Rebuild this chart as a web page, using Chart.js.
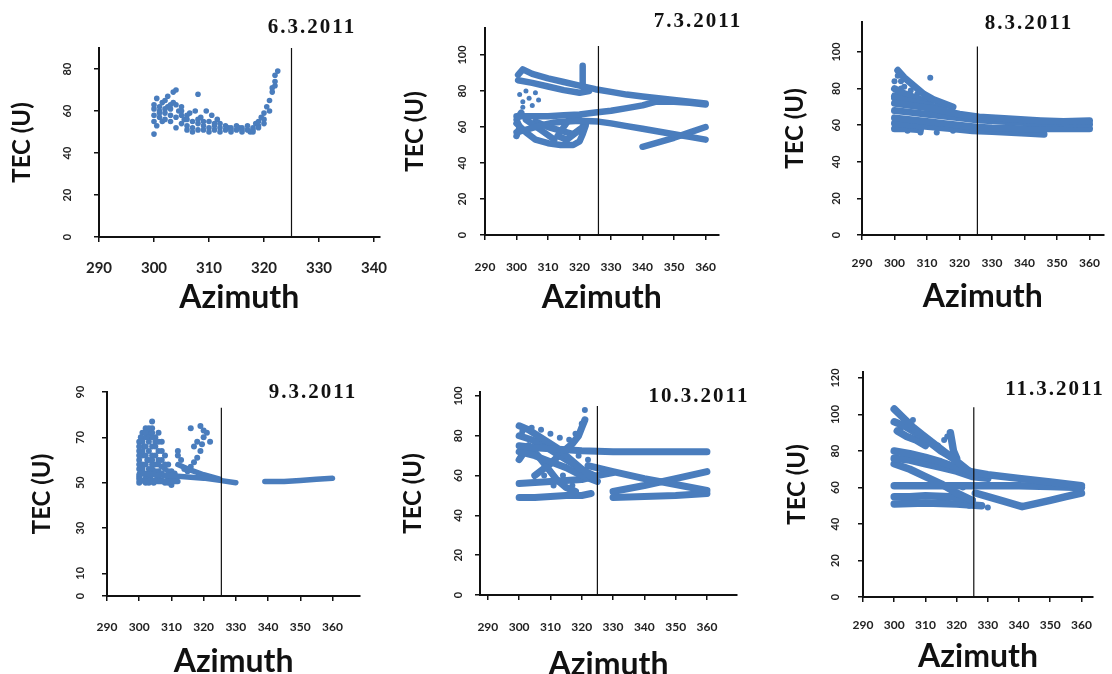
<!DOCTYPE html>
<html>
<head>
<meta charset="utf-8">
<script src="https://cdn.jsdelivr.net/npm/chart.js@4.4.1/dist/chart.umd.min.js"></script>
<style>
body{margin:0;background:#fff;width:1112px;height:674px;overflow:hidden;position:relative}
canvas{position:absolute}
.date{position:absolute;font:bold 21px "Liberation Serif";letter-spacing:2px;color:#111;transform:translate(-50%,-50%);white-space:nowrap}
</style>
</head>
<body>
<canvas id="c1"></canvas><canvas id="c2"></canvas><canvas id="c3"></canvas>
<canvas id="c4"></canvas><canvas id="c5"></canvas><canvas id="c6"></canvas>
<script>
// days and axis ticks
var dates = ["6.3.2011", "7.3.2011", "8.3.2011", "9.3.2011", "10.3.2011", "11.3.2011"];
var azTicksShort = [290, 300, 310, 320, 330, 340];
var azTicks = [290, 300, 310, 320, 330, 340, 350, 360];
var tecTicks80 = [0, 20, 40, 60, 80];
var tecTicks90 = [0, 10, 30, 50, 70, 90];
var tecTicks100 = [0, 20, 40, 60, 80, 100];
var tecTicks120 = [0, 20, 40, 60, 80, 100, 120];

// azimuth of the event marker and how high the marker goes (TEC units)
var eventAz = [325, 326, 325.5, 325.5, 325, 325.5];
var eventTop = [90, 105, 103, 83, 95, 104];

// 6.3.2011 : [azimuth, TEC]
var dots_6mar = [[300,49],[300,55],[300,58],[300,61],[300,63],[300.5,66],[300.5,53],[301,57],[301,60],[301,62],[301.5,64],[301.5,55],
	[302,59],[302,56],[302,65],[302.5,67],[302.5,62],[303,61],[303,58],[303,55],[303.5,69],[303.5,64],[304,70],[304,63],[304,57],[304,52],
	[304.5,60],[305,54],[305,58],[305,62],[305.5,56],[306,56],[306,53],[306,51],[306.5,59],[307,52],[307,55],[307,50],[307.5,60],[308,68],
	[308,54],[308,51],[308.5,57],[309,53],[309,51],[309.5,60],[310,52],[310,55],[310,50],[310.5,58],[311,51],[311,54],[311.5,56],[312,52],
	[312,50],[313,51],[313,53],[313.5,52],[314,52],[314,50],[315,51],[315,53],[315.5,52],[316,52],[316,50],[317,51],[317,53],[317.5,50],
	[318,52],[318,50],[318.5,54],[319,53],[319,55],[319.5,57],[320,56],[320,59],[320.5,62],[321,60],[321,65],[321.5,69],[321.5,71],
	[322,72],[322,74],[322,77],[322.5,79],[301,59],[302,61],[303,63],[305,60],[306,58],[308,56],[309,55],[311,53],[312,54],[314,51],
	[316,51],[318,51],[319,52],[320,54]];
var tracks_6mar = [];

// 7.3.2011
var tracks_7mar = [
	[[300.5,89],[302,92],[305,89.5],[310,87],[315,85],[320,83],[325,81],[330,79.5],[335,78],[340,77],[345,76],[350,75],[355,74],[360,73]],
	[[300.5,86],[305,84.5],[310,82.5],[315,80.5],[320,79],[323,80]],
	[[300,66],[305,66],[310,66],[315,66.5],[320,67],[325,68],[330,69],[335,70.5],[340,72],[344,74],[350,74],[355,73.5],[360,72.5]],
	[[300,57],[304,59],[308,61],[312,62.5],[316,63],[320,63.5],[326,63],[330,62],[335,60.5],[340,59],[345,57.5],[350,56],[355,54.5],[360,53]],
	[[340,49],[345,51.5],[350,54],[355,57],[360,60]],
	[[300,62],[303,57],[306,53],[310,51],[314,50],[318,50],[320,52],[321,56],[322,61],[320,64],[317,65],[315,60],[313,55],[316,53],[319,57]],
	[[300,55],[301,60],[300,64],[301.5,68]],
	[[303,64],[308,58],[312,53]],
	[[306,63],[310,60],[314,58],[318,56],[321,60]],
	[[321,84],[321,89],[321,94]]
];
var dots_7mar = [[301,78],[302,74],[303,80],[304,76],[305,72],[306,79],[307,75],[302,71]];

// 8.3.2011
var tracks_8mar = [
	[[300,72],[304,71],[308,70],[312,69],[316,67.5],[320,66],[326,64.5],[335,63.5],[345,62.5],[352,62],[360,62.5]],
	[[300,68],[305,67],[310,66],[315,65],[320,64],[325,63],[330,62.5],[340,61.5],[350,61],[360,60.5]],
	[[300,64],[305,63],[310,62],[315,61],[320,60],[325,59],[330,58.5],[340,58],[350,58],[360,58]],
	[[300,61],[306,60],[312,59],[318,58],[324,57],[330,56.5],[336,56],[342,55.5],[346,55]],
	[[300,58],[304,58],[308,57.5]],
	[[300,75],[305,73],[310,71],[315,69]],
	[[301,90],[303,86],[305,83],[307,80],[309,77],[312,74],[315,72],[318,70]],
	[[300,80],[302,78],[305,76],[308,74],[311,72]],
	[[300,76],[303,74],[306,72]]
];
var dots_8mar = [[311,86],[304,57],[308,56],[313,56],[318,57],[300,84],[302,84],[303,81],[305,79],[307,77],[310,75],[313,73],[301,87],[302,80]];

// 9.3.2011
var dots_9mar = [[300,50],[300,53],[300,56],[300,60],[300,64],[300,68],[301,72],[301,51],[301,58],[301,62],[301.5,66],[302,70],[302,74],
	[302,54],[302,50],[302.5,60],[303,64],[303,68],[303,72],[303.5,52],[304,77],[304,74],[304,56],[304,62],[304.5,50],[305,70],[305,66],
	[305,58],[305.5,53],[306,72],[306,64],[306,55],[307,68],[307,60],[307,51],[308,62],[308,56],[308,50],[309,58],[309,52],[310,55],[310,49],
	[312,64],[312,62],[313,60],[314,56],[315,55],[316,57],[317,59],[318,61],[319,64],[319.5,67],[320,70],[320,73],[319,75],[321,72],
	[318,68],[317,66],[322,68],[316,74],
	[300,52],[300,58],[300,62],[300,66],[300.5,70],[301,54],[301,56],[301,64],[301,68],[302,52],[302,58],[302,62],[302,66],[302,72],
	[303,50],[303,54],[303,56],[303,60],[303,70],[303,74],[304,54],[304,58],[304,60],[304,66],[304,70],[304,72],[305,51],[305,55],
	[305,62],[305,68],[306,52],[306,58],[306,60],[306,68],[307,54],[307,57],[307,64],[308,53],[308,58],[309,50],[309,55],[310,52],[311,51],[311,54]];
var tracks_9mar = [
	[[300,54],[305,53.5],[310,53],[315,52.5],[320,52],[325,51],[330,50]],
	[[300,51],[306,50.5],[312,50.5]],
	[[312,58],[316,55.5],[320,53.5],[325,51.5]],
	[[339,50.5],[345,50.5],[350,51],[355,51.5],[360,52]]
];

// 10.3.2011
var tracks_10mar = [
	[[300,75],[305,74],[310,73.5],[315,73],[320,72.5],[330,72],[340,72],[350,72],[360,72]],
	[[300,85],[303,83],[306,80],[309,77],[312,74],[315,70],[318,66],[321,62],[324,58]],
	[[300,80],[304,78],[308,75],[312,71],[316,67],[320,63],[324,60]],
	[[300,72],[305,70],[310,67],[315,64],[320,60],[325,57]],
	[[300,56],[305,56.5],[310,57],[315,57.5],[320,58],[325,60],[330,61.5]],
	[[322,65],[330,62],[340,58.5],[350,55.5],[360,52.5]],
	[[330,52],[340,55],[350,58.5],[360,62]],
	[[330,49],[340,49.5],[350,50],[360,51]],
	[[300,49],[305,49],[310,49.5],[315,50],[320,50],[323,51]],
	[[305,60],[310,66],[314,72],[317,76],[319,80],[320,84],[321,88]],
	[[300,68],[303,75],[306,70],[309,64],[312,58],[315,54],[318,52]]
];
var dots_10mar = [[321,93],[320,86],[318,81],[316,78],[313,79],[310,81],[307,83],[304,84],[301,82],[308,60],[311,55],[314,60],[317,55],[319,70],[322,68]];

// 11.3.2011
var tracks_11mar = [
	[[300,103],[303,98],[306,93],[309,89],[312,85],[315,81],[318,77],[321,73],[324,69],[326,67]],
	[[300,96],[303,94],[306,91],[309,88],[312,84],[315,80],[318,77]],
	[[301,91],[304,88],[307,86],[310,83]],
	[[318,90],[318.5,85],[319,80],[320,76]],
	[[300,80],[305,78.5],[310,76.5],[315,74],[320,71],[325,68.5],[330,67],[340,65],[350,63],[360,61]],
	[[300,76],[305,75],[310,73],[315,71],[320,69],[325,66],[330,65]],
	[[300,61],[310,61],[320,61],[330,61],[340,61],[350,60.5],[360,60]],
	[[300,73],[305,70],[310,66],[315,62],[320,57],[325,53]],
	[[300,55],[305,55],[310,55.5],[318,55],[325,53]],
	[[300,51],[310,51.5],[320,51],[328,50]],
	[[326,57],[330,55],[335,52.5],[341,49.5],[345,51],[350,53],[355,55],[360,57]]
];
var dots_11mar = [[302,92],[304,96],[306,97],[303,89],[305,94],[316,86],[317,88],[314,83],[322,60],[324,50],[330,49]];

var blue = '#4a7dbd';

// where each panel sits on the page (plot box in px) and its axis ranges
var panels = [
	{L:99, R:379.5, T:48, B:237, xMin:290, xMax:341, yMax:90, xTicks:azTicksShort, yTicks:tecTicks80,
		yw:93, xh:82, labX:67, xPad:17, xFont:15, dot:2.8, lw:6, dots:dots_6mar, tracks:tracks_6mar, dx:312, dy:26},
	{L:484.5, R:718, T:28, B:235, xMin:290, xMax:364.1, yMax:115, xTicks:azTicks, yTicks:tecTicks100,
		yw:86, xh:84, labX:462, xPad:20, xFont:12, dot:2.5, lw:6.5, dots:dots_7mar, tracks:tracks_7mar, dx:698, dy:20},
	{L:861.5, R:1103, T:22, B:235, xMin:290, xMax:364.3, yMax:116.4, xTicks:azTicks, yTicks:tecTicks100,
		yw:83, xh:83, labX:836, xPad:16, xFont:12, dot:3, lw:7, dots:dots_8mar, tracks:tracks_8mar, dx:1029, dy:22},
	{L:106.8, R:360, T:392, B:596, xMin:290, xMax:368.6, yMax:90, xTicks:azTicks, yTicks:tecTicks90,
		yw:81, xh:87, labX:80, xPad:19, xFont:12, dot:3, lw:5.5, dots:dots_9mar, tracks:tracks_9mar, dx:313, dy:391},
	{L:480, R:737, T:392, B:595, xMin:287.5, xMax:369.6, yMax:102, xTicks:azTicks, yTicks:tecTicks100,
		yw:83, xh:91, labX:458, xPad:20, xFont:12, dot:3, lw:7, dots:dots_10mar, tracks:tracks_10mar, dx:699, dy:395},
	{L:863, R:1093, T:372, B:597, xMin:290, xMax:363.7, yMax:123.3, xTicks:azTicks, yTicks:tecTicks120,
		yw:82, xh:81, labX:835, xPad:16, xFont:12, dot:3, lw:7.5, dots:dots_11mar, tracks:tracks_11mar, dx:1055, dy:388}
];

Chart.defaults.font.family = 'Lato';

// y tick labels turned 90 degrees, like the spreadsheet axis
var rotatedTecLabels = {
	id: 'rotatedTecLabels',
	afterDraw: function(chart, args, opts){
		var ys = chart.scales.y, ctx = chart.ctx;
		ctx.save();
		ctx.font = 'bold 11px Lato';
		ctx.fillStyle = '#222';
		ctx.textAlign = 'center';
		ctx.textBaseline = 'middle';
		ys.ticks.forEach(function(t){
			ctx.save();
			ctx.translate(opts.x, ys.getPixelForValue(t.value));
			ctx.rotate(-Math.PI / 2);
			ctx.fillText(String(t.value), 0, 0);
			ctx.restore();
		});
		ctx.restore();
	}
};

function toPts(list){
	return list.map(function(p){ return {x: p[0], y: p[1]}; });
}

function buildPanel(i, g){
	var cvs = document.getElementById('c' + (i + 1));
	var padTop = 40, padRight = 45;
	var left = g.L - g.yw, top = g.T - padTop;
	var w = Math.ceil(g.R - left + padRight), h = Math.ceil(g.B + g.xh - top);
	cvs.width = w; cvs.height = h;
	cvs.style.left = left + 'px'; cvs.style.top = top + 'px';
	cvs.style.width = w + 'px'; cvs.style.height = h + 'px';

	var datasets = [{
		//event marker
		data: toPts([[eventAz[i], 0], [eventAz[i], eventTop[i]]]),
		showLine: true, borderColor: '#111', borderWidth: 1.2, pointRadius: 0, order: -1
	}];
	g.tracks.forEach(function(t){
		datasets.push({
			data: toPts(t), showLine: true, borderColor: blue, borderWidth: g.lw,
			borderCapStyle: 'round', borderJoinStyle: 'round', pointRadius: 0
		});
	});
	datasets.push({
		data: toPts(g.dots), showLine: false, pointRadius: g.dot, pointBorderWidth: 0,
		pointBackgroundColor: blue, backgroundColor: blue
	});

	var axisGrid = {display: true, drawOnChartArea: false, drawTicks: true, tickLength: 5, color: '#111', lineWidth: 1.5};
	var axisBorder = {display: true, color: '#111', width: 2};

	new Chart(cvs.getContext('2d'), {
		type: 'scatter',
		data: {datasets: datasets},
		plugins: [rotatedTecLabels],
		options: {
			responsive: false,
			animation: false,
			layout: {padding: {left: 0, top: padTop, right: left + w - g.R, bottom: top + h - g.xh - g.B}},
			plugins: {legend: {display: false}, tooltip: {enabled: false}, rotatedTecLabels: {x: g.labX - left}},
			scales: {
				x: {
					type: 'linear', min: g.xMin, max: g.xMax,
					afterBuildTicks: function(s){ s.ticks = g.xTicks.map(function(v){ return {value: v}; }); },
					afterFit: function(s){ s.height = g.xh; },
					border: axisBorder, grid: axisGrid,
					ticks: {font: {size: g.xFont, weight: 'bold'}, color: '#222', padding: g.xPad, maxRotation: 0, autoSkip: false},
					title: {display: true, text: 'Azimuth', color: '#111', font: {size: 32, weight: 'bold'}, padding: {top: 0, bottom: 2}}
				},
				y: {
					type: 'linear', min: 0, max: g.yMax,
					afterBuildTicks: function(s){ s.ticks = g.yTicks.map(function(v){ return {value: v}; }); },
					afterFit: function(s){ s.width = g.yw; },
					border: axisBorder, grid: axisGrid,
					ticks: {display: false},
					title: {display: true, text: 'TEC (U)', color: '#111', font: {size: 24, weight: 'bold'}, padding: {top: 2, bottom: 0}}
				}
			}
		}
	});

	var d = document.createElement('div');
	d.className = 'date';
	d.textContent = dates[i];
	d.style.left = g.dx + 'px';
	d.style.top = g.dy + 'px';
	document.body.appendChild(d);
}

panels.forEach(function(g, i){ buildPanel(i, g); });
</script>
</body>
</html>
